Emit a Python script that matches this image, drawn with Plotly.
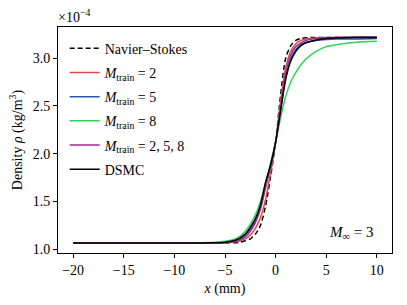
import plotly.graph_objects as go

x_mm = [-20, -10, -6, -5, -4, -3.5, -3, -2.5, -2, -1.5, -1, -0.5, 0, 0.5, 1, 1.5, 2, 2.5, 3, 4, 5, 6, 8, 10]

rho_ns = [1.066, 1.066, 1.066, 1.067, 1.070, 1.075, 1.09, 1.11, 1.16, 1.25, 1.45, 1.76, 2.12, 2.62, 3.00, 3.13, 3.185, 3.205, 3.212, 3.215, 3.215, 3.215, 3.215, 3.215]
rho_m2 = [1.066, 1.066, 1.067, 1.070, 1.080, 1.090, 1.11, 1.15, 1.22, 1.33, 1.52, 1.80, 2.12, 2.55, 2.90, 3.07, 3.15, 3.185, 3.20, 3.21, 3.215, 3.215, 3.215, 3.215]
rho_m5 = [1.066, 1.067, 1.069, 1.074, 1.090, 1.110, 1.15, 1.21, 1.30, 1.44, 1.66, 1.88, 2.12, 2.47, 2.80, 2.99, 3.09, 3.14, 3.165, 3.185, 3.195, 3.20, 3.20, 3.205]
rho_m8 = [1.066, 1.068, 1.075, 1.085, 1.110, 1.140, 1.19, 1.26, 1.36, 1.50, 1.68, 1.90, 2.12, 2.38, 2.60, 2.75, 2.85, 2.93, 2.99, 3.07, 3.12, 3.14, 3.165, 3.175]
rho_m258 = [1.066, 1.066, 1.068, 1.072, 1.085, 1.100, 1.13, 1.19, 1.28, 1.42, 1.64, 1.87, 2.12, 2.50, 2.84, 3.03, 3.12, 3.16, 3.185, 3.205, 3.21, 3.215, 3.22, 3.22]
rho_dsmc = [1.066, 1.067, 1.070, 1.075, 1.095, 1.120, 1.16, 1.23, 1.32, 1.46, 1.70, 1.88, 2.12, 2.45, 2.78, 2.97, 3.07, 3.13, 3.16, 3.19, 3.205, 3.21, 3.215, 3.215]

series = [
    ("Navier–Stokes", rho_ns, "black", "5px,3px"),
    ("<i>M</i><sub>train</sub> = 2", rho_m2, "#dc4a4a", "solid"),
    ("<i>M</i><sub>train</sub> = 5", rho_m5, "#2456b8", "solid"),
    ("<i>M</i><sub>train</sub> = 8", rho_m8, "#2ed45a", "solid"),
    ("<i>M</i><sub>train</sub> = 2, 5, 8", rho_m258, "#9c2a92", "solid"),
    ("DSMC", rho_dsmc, "black", "solid"),
]

FONT = "Liberation Serif"

fig = go.Figure()
for i, (name, ys, color, dash) in enumerate(series):
    fig.add_trace(go.Scatter(
        x=x_mm, y=ys, mode="lines", name=name, legendgroup=f"g{i}",
        line=dict(color=color, width=1.5, dash=dash, shape="spline", smoothing=0.8),
    ))

fig.update_layout(
    width=407, height=305,
    margin=dict(l=58, r=15, t=27, b=52),
    paper_bgcolor="white", plot_bgcolor="white",
    font=dict(family=FONT, size=14, color="black"),
    showlegend=True,
    legend=dict(x=0.02, y=0.975, xanchor="left", yanchor="top",
                bgcolor="rgba(0,0,0,0)", font=dict(family=FONT, size=14),
                tracegroupgap=3),
    annotations=[
        dict(text="×10<sup>−4</sup>", xref="paper", yref="paper", x=-0.005, y=1.0,
             xanchor="left", yanchor="bottom", showarrow=False,
             font=dict(family=FONT, size=14)),
        dict(text="<i>M</i><sub>∞</sub> = 3", xref="paper", yref="paper", x=0.95, y=0.04,
             xanchor="right", yanchor="bottom", showarrow=False,
             font=dict(family=FONT, size=15)),
    ],
)
fig.update_xaxes(
    range=[-21.5, 11.5], tickvals=[-20, -15, -10, -5, 0, 5, 10],
    showgrid=False, zeroline=False, showline=True, linecolor="black", linewidth=1,
    mirror=True, ticks="outside", ticklen=4, tickcolor="black", automargin=False,
    title=dict(text="<i>x</i> (mm)", standoff=6, font=dict(family=FONT, size=14)),
    tickfont=dict(family=FONT, size=14),
)
fig.update_yaxes(
    range=[0.962, 3.325], tickvals=[1.0, 1.5, 2.0, 2.5, 3.0], tickformat=".1f",
    showgrid=False, zeroline=False, showline=True, linecolor="black", linewidth=1,
    mirror=True, ticks="outside", ticklen=4, tickcolor="black", automargin=False,
    title=dict(text="Density <i>ρ</i> (kg/m<sup>3</sup>)", standoff=6, font=dict(family=FONT, size=14)),
    tickfont=dict(family=FONT, size=14),
)

fig.write_html("out.html", config={"displayModeBar": False},
               post_script="document.body.style.margin='0';document.body.style.overflow='hidden';")
